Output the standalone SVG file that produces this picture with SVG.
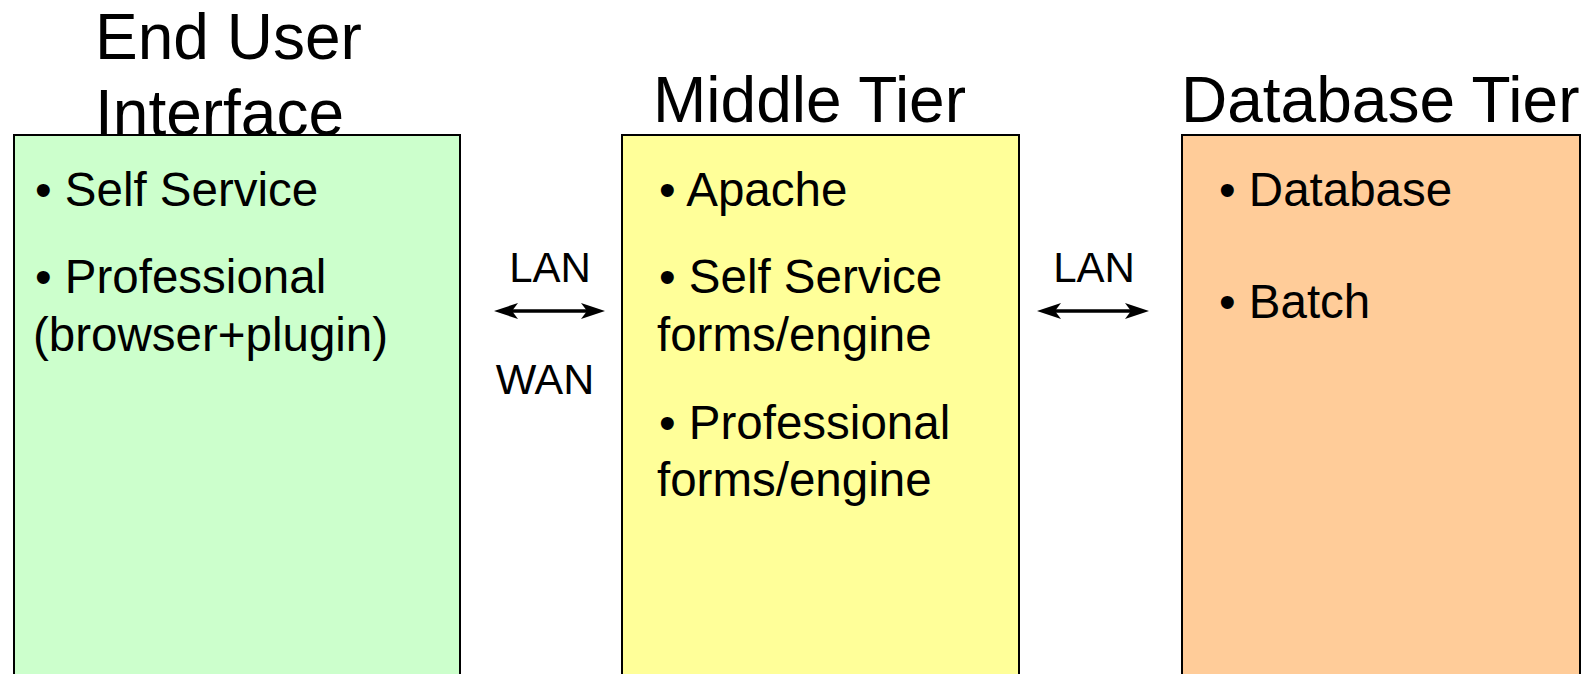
<svg xmlns="http://www.w3.org/2000/svg" width="1587" height="674" viewBox="0 0 1587 674">
<style>
text{font-family:"Liberation Sans",Arial,Helvetica,sans-serif;fill:#000}
.title{font-size:64px}
.body{font-size:47.5px}
.lbl{font-size:42px;text-anchor:middle}
.box{stroke:#000;stroke-width:2}
.conn{stroke:#000;stroke-width:3.5;fill:none}
</style>
<defs>
<marker id="ah" markerUnits="userSpaceOnUse" markerWidth="24" markerHeight="18" viewBox="0 0 24 18" refX="6" refY="9" orient="auto-start-reverse">
<path d="M0,1 L24,9 L0,17 L6,9 Z" fill="#000"/>
</marker>
</defs>
<rect width="1587" height="674" fill="#fff"/>
<g id="end-user">
<rect class="box" x="14" y="135" width="446" height="560" fill="#CCFFCC"/>
<text class="title" x="95" y="59">End User</text>
<text class="title" x="95" y="135">Interface</text>
<text class="body" x="35" y="206">• Self Service</text>
<text class="body" x="35" y="293">• Professional</text>
<text class="body" x="33" y="351">(browser+plugin)</text>
</g>
<g id="middle-tier">
<rect class="box" x="622" y="135" width="397" height="560" fill="#FFFF99"/>
<text class="title" x="653" y="122">Middle Tier</text>
<text class="body" x="659" y="206">• Apache</text>
<text class="body" x="659" y="293">• Self Service</text>
<text class="body" x="657" y="351">forms/engine</text>
<text class="body" x="659" y="439">• Professional</text>
<text class="body" x="657" y="496">forms/engine</text>
</g>
<g id="database-tier">
<rect class="box" x="1182" y="135" width="398" height="560" fill="#FFCC99"/>
<text class="title" x="1181" y="122">Database Tier</text>
<text class="body" x="1219" y="206">• Database</text>
<text class="body" x="1219" y="318">• Batch</text>
</g>
<g id="connectors">
<line class="conn" x1="512" y1="311" x2="587" y2="311" marker-start="url(#ah)" marker-end="url(#ah)"/>
<text class="lbl" x="550" y="282">LAN</text>
<text class="lbl" x="545" y="394" style="font-size:43px">WAN</text>
<line class="conn" x1="1055" y1="311" x2="1131" y2="311" marker-start="url(#ah)" marker-end="url(#ah)"/>
<text class="lbl" x="1094" y="282">LAN</text>
</g>
</svg>
